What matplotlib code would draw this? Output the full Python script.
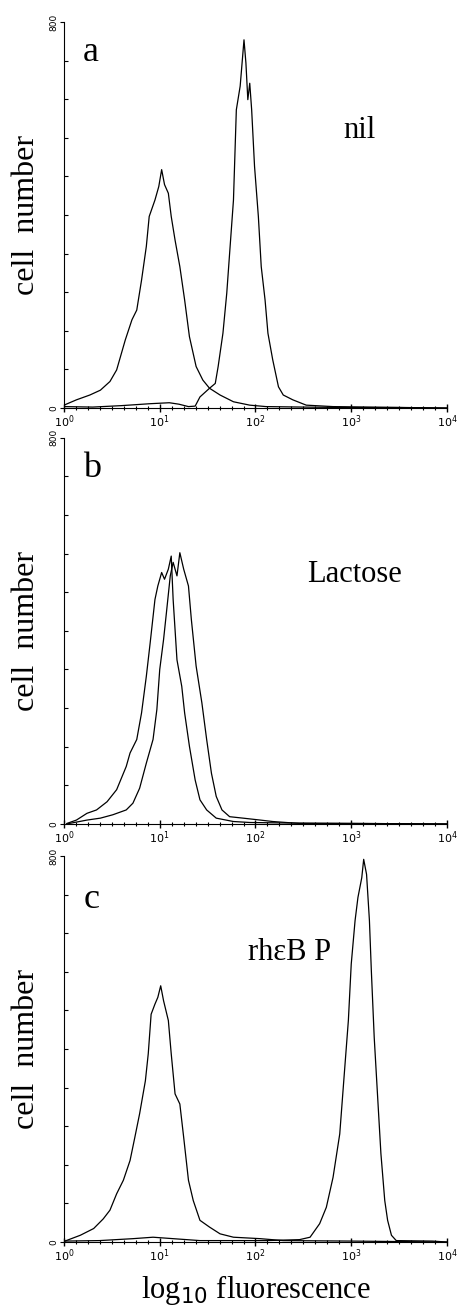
import numpy as np
import matplotlib.pyplot as plt
from matplotlib.ticker import FixedLocator, LogFormatterSciNotation, NullFormatter

# ---- flow cytometry histograms (x = log10 fluorescence, y = cell number) ----
# panel a : nil
a1_log = [0.00, 0.13, 0.27, 0.38, 0.48, 0.55, 0.64, 0.71, 0.76, 0.81, 0.86, 0.89, 0.95, 0.99,
          1.02, 1.05, 1.09, 1.12, 1.16, 1.21, 1.26, 1.31, 1.38, 1.45, 1.52, 1.63, 1.77, 1.94,
          2.11, 2.50, 3.00, 3.50, 4.00]
a1_cnt = [6, 17, 27, 37, 55, 79, 141, 183, 203, 265, 335, 397, 431, 459,
          494, 463, 445, 397, 348, 293, 224, 148, 86, 58, 41, 27, 13, 6,
          3, 2, 1, 1, 0]
a2_log = [0.00, 0.30, 0.60, 0.90, 1.00, 1.10, 1.20, 1.30, 1.37, 1.42, 1.52, 1.58, 1.61, 1.66,
          1.70, 1.73, 1.77, 1.80, 1.84, 1.88, 1.90, 1.92, 1.94, 1.96, 1.99, 2.03, 2.06, 2.10,
          2.13, 2.18, 2.24, 2.29, 2.39, 2.53, 2.81, 3.20, 3.60, 4.00]
a2_cnt = [3, 2, 5, 9, 10, 11, 8, 3, 4, 23, 41, 51, 86, 155,
          238, 321, 431, 618, 667, 763, 715, 639, 673, 618, 501, 397, 293, 224,
          155, 100, 44, 27, 17, 6, 3, 2, 1, 0]

# panel b : Lactose
b1_log = [0.03, 0.13, 0.24, 0.34, 0.45, 0.55, 0.65, 0.69, 0.76, 0.81, 0.86, 0.90, 0.95, 0.98,
          1.02, 1.05, 1.09, 1.12, 1.14, 1.18, 1.23, 1.26, 1.31, 1.37, 1.42, 1.49, 1.59, 1.77,
          1.94, 2.30, 3.00, 4.00]
b1_cnt = [1, 8, 22, 29, 46, 71, 119, 147, 175, 230, 306, 375, 465, 493,
          521, 507, 528, 555, 465, 340, 285, 230, 161, 91, 50, 29, 12, 5,
          3, 2, 1, 0]
b2_log = [0.03, 0.24, 0.38, 0.51, 0.65, 0.72, 0.79, 0.86, 0.93, 0.97, 1.00, 1.04, 1.07, 1.11,
          1.14, 1.18, 1.21, 1.25, 1.30, 1.33, 1.38, 1.44, 1.49, 1.54, 1.59, 1.65, 1.73, 1.87,
          2.05, 2.18, 2.46, 3.00, 4.00]
b2_cnt = [0, 8, 12, 19, 29, 43, 74, 126, 175, 237, 320, 382, 438, 514,
          542, 514, 562, 528, 493, 424, 327, 251, 175, 105, 57, 29, 15, 12,
          8, 5, 1, 1, 0]

# panel c : rh-epsilon-BP
c1_log = [0.01, 0.17, 0.31, 0.41, 0.48, 0.55, 0.62, 0.69, 0.74, 0.79, 0.85, 0.88, 0.91, 0.95,
          0.98, 1.01, 1.04, 1.09, 1.12, 1.16, 1.21, 1.25, 1.30, 1.35, 1.42, 1.52, 1.63, 1.77,
          2.05, 2.29, 3.00, 4.00]
c1_cnt = [2, 14, 28, 48, 66, 100, 128, 169, 217, 266, 334, 390, 472, 493,
          507, 531, 500, 459, 390, 307, 286, 217, 128, 86, 45, 31, 17, 10,
          7, 3, 2, 0]
c2_log = [0.01, 0.37, 0.72, 0.93, 1.14, 1.42, 2.11, 2.46, 2.57, 2.67, 2.74, 2.81, 2.88, 2.93,
          2.97, 3.00, 3.04, 3.07, 3.11, 3.13, 3.16, 3.19, 3.21, 3.24, 3.28, 3.31, 3.35, 3.38,
          3.42, 3.47, 3.85, 4.00]
c2_cnt = [2, 3, 7, 10, 7, 3, 3, 5, 10, 38, 72, 134, 224, 355,
          459, 576, 666, 714, 755, 793, 762, 666, 562, 424, 286, 183, 86, 45,
          14, 3, 2, 0]

panels = [
    ("a", "nil", [(a1_log, a1_cnt), (a2_log, a2_cnt)]),
    ("b", "Lactose", [(b1_log, b1_cnt), (b2_log, b2_cnt)]),
    ("c", "rh\u03b5B P", [(c1_log, c1_cnt), (c2_log, c2_cnt)]),
]
# where the panel letter and treatment label sit (axes fraction)
letter_y = [0.92, 0.92, 0.886]
label_pos = [(0.73, 0.72), (0.635, 0.645), (0.48, 0.75)]

serif = ["Liberation Serif", "DejaVu Serif"]

fig = plt.figure(figsize=(4.61, 13.07), dpi=100)
bottoms = [0.6878, 0.3696, 0.0497]
for i, (letter, name, curves) in enumerate(panels):
    ax = fig.add_axes([0.1388, bottoms[i], 0.8308, 0.2954])
    for lg, cnt in curves:
        ax.plot(10 ** np.array(lg), cnt, color="black", lw=0.9)
    ax.set_xscale("log")
    ax.set_xlim(1, 1e4)
    ax.set_ylim(0, 800)
    ax.spines["top"].set_visible(False)
    ax.spines["right"].set_visible(False)

    ax.xaxis.set_major_locator(FixedLocator([1, 10, 100, 1000, 10000]))
    ax.xaxis.set_major_formatter(LogFormatterSciNotation())
    ax.xaxis.set_minor_locator(FixedLocator(10 ** (np.arange(0, 33) / 8)))
    ax.xaxis.set_minor_formatter(NullFormatter())
    ax.tick_params(axis="x", which="major", direction="inout", length=6, width=1, labelsize=8, pad=1)
    ax.tick_params(axis="x", which="minor", direction="inout", length=3, width=0.8)

    ax.set_yticks([0, 800])
    ax.set_yticklabels(["0", "800"], rotation=90, va="center", fontsize=6.5)
    ax.yaxis.set_minor_locator(FixedLocator(np.arange(80, 800, 80)))
    ax.tick_params(axis="y", which="major", direction="out", length=3, width=0.8, pad=1)
    ax.tick_params(axis="y", which="minor", direction="in", length=3, width=0.8)

    ax.set_ylabel("cell  number", fontsize=23, family=serif, labelpad=6)
    ax.text(0.05, letter_y[i], letter, transform=ax.transAxes, fontsize=26, family=serif,
            ha="left", va="center")
    ax.text(label_pos[i][0], label_pos[i][1], name, transform=ax.transAxes, fontsize=22,
            family=serif, ha="left", va="center")
    if i == 2:
        ax.set_xlabel("log$_{10}$ fluorescence", fontsize=22, family=serif, labelpad=6)

fig.savefig("out.png", dpi=100)
